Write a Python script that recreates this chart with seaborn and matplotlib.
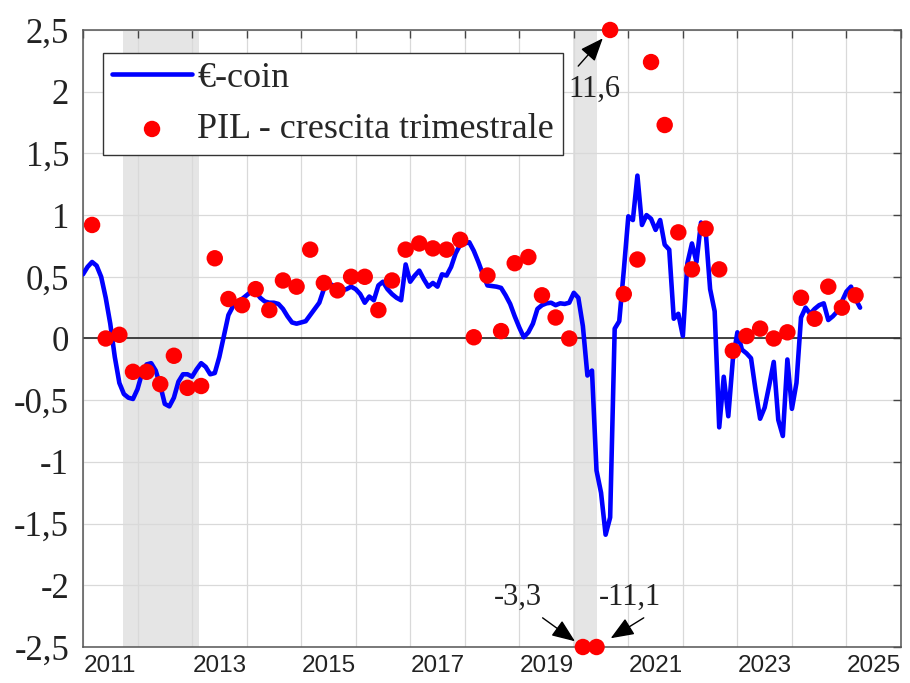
import numpy as np
import pandas as pd
import seaborn as sns
import matplotlib.pyplot as plt
from matplotlib.ticker import FuncFormatter

# =========================
# Data
# =========================
# €-coin, monthly from Jan 2011
coin_start = 2011
coin = [
    0.52, 0.58, 0.62, 0.59, 0.50, 0.33, 0.12, -0.15, -0.36, -0.45, -0.48, -0.49,    # 2011
    -0.41, -0.28, -0.21, -0.20, -0.26, -0.38, -0.53, -0.55, -0.48, -0.35, -0.29, -0.29,  # 2012
    -0.31, -0.25, -0.20, -0.23, -0.29, -0.28, -0.15, 0.02, 0.19, 0.26, 0.30, 0.32,   # 2013
    0.35, 0.38, 0.38, 0.33, 0.30, 0.29, 0.29, 0.28, 0.24, 0.18, 0.13, 0.12,          # 2014
    0.13, 0.14, 0.19, 0.24, 0.29, 0.40, 0.45, 0.43, 0.41, 0.39, 0.40, 0.42,          # 2015
    0.40, 0.36, 0.29, 0.34, 0.31, 0.43, 0.46, 0.40, 0.36, 0.33, 0.31, 0.60,          # 2016
    0.46, 0.51, 0.55, 0.48, 0.42, 0.45, 0.42, 0.52, 0.51, 0.58, 0.69, 0.76,          # 2017
    0.77, 0.78, 0.71, 0.62, 0.52, 0.43, 0.425, 0.42, 0.41, 0.35, 0.28, 0.18,         # 2018
    0.09, 0.01, 0.05, 0.12, 0.24, 0.27, 0.285, 0.29, 0.27, 0.285, 0.28, 0.29,        # 2019
    0.37, 0.33, 0.10, -0.30, -0.26, -1.07, -1.25, -1.59, -1.45, 0.08, 0.14, 0.55,    # 2020
    0.99, 0.96, 1.32, 0.92, 1.00, 0.97, 0.88, 0.96, 0.76, 0.72, 0.16, 0.20,          # 2021
    0.02, 0.61, 0.77, 0.62, 0.94, 0.88, 0.40, 0.22, -0.72, -0.31, -0.63, -0.17,      # 2022
    0.05, -0.09, -0.12, -0.16, -0.42, -0.65, -0.56, -0.38, -0.19, -0.66, -0.79, -0.17,  # 2023
    -0.57, -0.36, 0.17, 0.25, 0.20, 0.24, 0.27, 0.285, 0.15, 0.18, 0.22, 0.30,       # 2024
    0.38, 0.42, 0.32, 0.25,                                                          # 2025
]

# PIL - crescita trimestrale, from 2011Q1
pil_start = 2011
pil = [
    0.92, 0.00, 0.03, -0.27,
    -0.27, -0.37, -0.14, -0.40,
    -0.385, 0.65, 0.32, 0.27,
    0.40, 0.23, 0.47, 0.42,
    0.72, 0.45, 0.39, 0.50,
    0.50, 0.23, 0.47, 0.72,
    0.77, 0.73, 0.72, 0.80,
    0.01, 0.51, 0.06, 0.61,
    0.66, 0.35, 0.17, 0.00,
    -3.3, -11.1, 11.6, 0.36,
    0.64, 2.24, 1.73, 0.86,
    0.56, 0.89, 0.56, -0.10,
    0.02, 0.08, 0.00, 0.05,
    0.33, 0.16, 0.42, 0.25,
    0.35,
]

# recession periods (shaded)
recessions = [(2011.73, 2013.13), (2019.99, 2020.43)]

x_label_years = [2011, 2013, 2015, 2017, 2019, 2021, 2023, 2025]
y_ticks = [-2.5, -2, -1.5, -1, -0.5, 0, 0.5, 1, 1.5, 2, 2.5]
y_min, y_max = -2.5, 2.5

# =========================
# Build frames
# =========================
coin_df = pd.DataFrame({
    "t": coin_start + np.arange(len(coin)) / 12,
    "coin": coin,
})

q = np.arange(len(pil))
pil_df = pd.DataFrame({
    "t": pil_start + q // 4 + (3 * (q % 4 + 1) - 1) / 12,
    "pil": pil,
})
# out-of-range quarters are drawn on the axis border
pil_df["shown"] = pil_df["pil"].clip(y_min, y_max)

# =========================
# Plot
# =========================
sns.set_theme(style="white")
plt.rcParams["font.family"] = ["Liberation Serif", "DejaVu Serif"]

fig = plt.figure(figsize=(9.1, 6.83), dpi=100)
ax = fig.add_axes([0.0912, 0.0527, 0.8989, 0.9034])

for a, b in recessions:
    ax.axvspan(a, b, color="#e5e5e5", lw=0, zorder=0)

ax.axhline(0, color="#333333", lw=1.3, zorder=1.5)

sns.lineplot(data=coin_df, x="t", y="coin", color="#0000ff", lw=3.3,
             ax=ax, label="€-coin", zorder=3)
sns.scatterplot(data=pil_df, x="t", y="shown", color="#ff0000", s=140,
                edgecolor="none", linewidth=0, ax=ax, zorder=4, clip_on=False,
                label="PIL - crescita trimestrale")

# axes
ax.set_xlim(2011, 2026)
ax.set_ylim(y_min, y_max)
ax.set_xlabel("")
ax.set_ylabel("")

ax.set_xticks(range(2011, 2027))
ax.set_xticklabels([])
ax.set_xticks([y + 0.5 for y in x_label_years], minor=True)
ax.set_xticklabels([str(y) for y in x_label_years], minor=True,
                   fontfamily="Liberation Sans", fontsize=17.5, color="#222222")
ax.tick_params(axis="x", which="minor", length=0, pad=6)

ax.set_yticks(y_ticks)
ax.yaxis.set_major_formatter(FuncFormatter(lambda v, p: f"{v:g}".replace(".", ",")))
ax.tick_params(axis="y", labelsize=25, pad=10, labelcolor="#222222")
ax.tick_params(which="major", direction="in", length=6, width=1,
               top=True, right=True, color="#444444")

ax.grid(True, which="major", color="#d9d9d9", lw=0.9)
ax.set_axisbelow(True)
for s in ax.spines.values():
    s.set_color("#555555")
    s.set_linewidth(1.1)

# labels for clipped quarters
arrow = dict(arrowstyle="-|>,head_length=0.55,head_width=0.22", color="black",
             lw=1.0, mutation_scale=26, shrinkA=0)
notes = pil_df[pil_df["pil"] != pil_df["shown"]]
offsets = {
    11.6: ((-23, -26), 8, (-11, -43)),
    -3.3: ((-29, 21), 7, (-47, 36)),
    -11.1: ((34, 21), 12, (24, 36)),
}
for _, r in notes.iterrows():
    tail, shrink, txt = offsets[r["pil"]]
    ax.annotate("", xy=(r["t"], r["shown"]), xytext=tail,
                textcoords="offset points",
                arrowprops=dict(arrow, shrinkB=shrink), annotation_clip=False)
    ax.annotate(f"{r['pil']:g}".replace(".", ","), xy=(r["t"], r["shown"]),
                xytext=txt, textcoords="offset points", ha="center",
                va="center", fontsize=22, color="#222222",
                annotation_clip=False)

leg = ax.legend(loc="upper left", bbox_to_anchor=(0.0248, 0.963),
                borderaxespad=0, fontsize=26, frameon=True, fancybox=False,
                framealpha=1, edgecolor="#333333", handlelength=2.2,
                handletextpad=0.15, labelspacing=0.5, borderpad=0.25)
leg.get_frame().set_linewidth(1.0)

plt.savefig("out.png", dpi=100)
plt.close()
